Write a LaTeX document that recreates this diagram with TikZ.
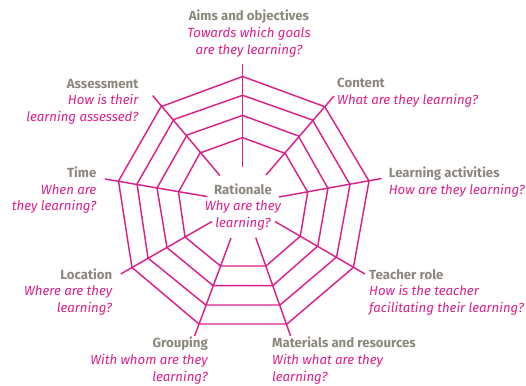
\documentclass[tikz,border=0pt]{standalone}
\usepackage{fontspec}
\setmainfont{Fira Sans}
\definecolor{web}{RGB}{218,32,138}
\definecolor{head}{RGB}{140,135,126}
\begin{document}
\begin{tikzpicture}[x=1pt,y=-1pt,
  webline/.style={draw=web,line width=1.45pt,line join=miter},
  lab/.style={inner sep=0pt,anchor=base,font=\fontsize{13.2}{16.7}\selectfont},
  lableft/.style={lab,anchor=base west,align=left},
  labright/.style={lab,anchor=base east,align=right},
  labcenter/.style={lab,anchor=base,align=center}]
\newcommand{\hd}[1]{\textcolor{head}{\bfseries #1}}
\newcommand{\qu}[1]{\textcolor{web}{\itshape #1}}
\useasboundingbox (0,0) rectangle (526,385);
% spokes: outer (o) and inner (i)
\coordinate (oA) at (242.6,64);   \coordinate (iA) at (242.6,167);
\coordinate (oB) at (334,96);     \coordinate (iB) at (266,175);
\coordinate (oC) at (381.5,178.5);\coordinate (iC) at (279,197);
\coordinate (oD) at (365,274);    \coordinate (iD) at (275,221.5);
\coordinate (oE) at (290.6,336);  \coordinate (iE) at (255.7,237.6);
\coordinate (oF) at (194.6,336);  \coordinate (iF) at (231,238);
\coordinate (oG) at (120.8,274);  \coordinate (iG) at (212,221.5);
\coordinate (oH) at (105,179);    \coordinate (iH) at (207.4,196.6);
\coordinate (oI) at (152.7,95.6); \coordinate (iI) at (219.8,175.5);
% ring points
\coordinate (A1) at (242.6,76.5); \coordinate (A2) at (242.6,95.3); \coordinate (A3) at (242.6,115.4); \coordinate (A4) at (242.6,137.6);
\coordinate (B1) at (324.8,106.7);\coordinate (B2) at (312.5,120); \coordinate (B3) at (298.3,135.9); \coordinate (B4) at (285.2,153.4);
\coordinate (C1) at (369,181);    \coordinate (C2) at (350,184.6); \coordinate (C3) at (327.9,188.3); \coordinate (C4) at (307.7,192);
\coordinate (D1) at (353.4,267.4);\coordinate (D2) at (336.6,257); \coordinate (D3) at (317.8,246);   \coordinate (D4) at (300.3,236.2);
\coordinate (E1) at (287,324);    \coordinate (E2) at (280,305);   \coordinate (E3) at (272.8,285.6); \coordinate (E4) at (266,266);
\coordinate (F1) at (199,324);    \coordinate (F2) at (205.7,305); \coordinate (F3) at (213,285.6);   \coordinate (F4) at (220.5,266);
\coordinate (G1) at (131.9,267.4);\coordinate (G2) at (148,258);   \coordinate (G3) at (167,247.6);   \coordinate (G4) at (185,237);
\coordinate (H1) at (118.5,181);  \coordinate (H2) at (137,184);   \coordinate (H3) at (157,188);     \coordinate (H4) at (178.5,192);
\coordinate (I1) at (161,106.7);  \coordinate (I2) at (173.8,119.5);\coordinate (I3) at (187,135);    \coordinate (I4) at (200,153);
\foreach \s in {A,B,C,D,E,F,G,H,I} { \draw[webline] (o\s) -- (i\s); }
\foreach \k in {1,2,3,4} {
  \draw[webline] (A\k) -- (B\k) -- (C\k) -- (D\k) -- (E\k) -- (F\k) -- (G\k) -- (H\k) -- (I\k) -- cycle;
}
% labels (anchor = baseline of the last line)
\node[labcenter] (aims) at (249,54.4) {\hd{Aims and objectives}\\\qu{Towards which goals}\\\qu{are they learning?}};
\node[lableft] (content) at (337,104.7) {\hd{Content}\\\qu{What are they learning?}};
\node[lableft] (learn) at (388.6,194.2) {\hd{Learning activities}\\\qu{How are they learning?}};
\node[lableft] (teacher) at (369,312.4) {\hd{Teacher role}\\\qu{How is the teacher}\\\qu{facilitating their learning?}};
\node[lableft] (mat) at (272,381) {\hd{Materials and resources}\\\qu{With what are they}\\\qu{learning?}};
\node[labright] (group) at (208,381) {\hd{Grouping}\\\qu{With whom are they}\\\qu{learning?}};
\node[labright] (loc) at (112.4,312.4) {\hd{Location}\\\qu{Where are they}\\\qu{learning?}};
\node[labright] (time) at (96.5,210.9) {\hd{Time}\\\qu{When are}\\\qu{they learning?}};
\node[labright] (assess) at (138.6,121.4) {\hd{Assessment}\\\qu{How is their}\\\qu{learning assessed?}};
\node[labcenter] (rat) at (243,227.4) {\hd{Rationale}\\\qu{Why are they}\\\qu{learning?}};
\end{tikzpicture}
\end{document}
